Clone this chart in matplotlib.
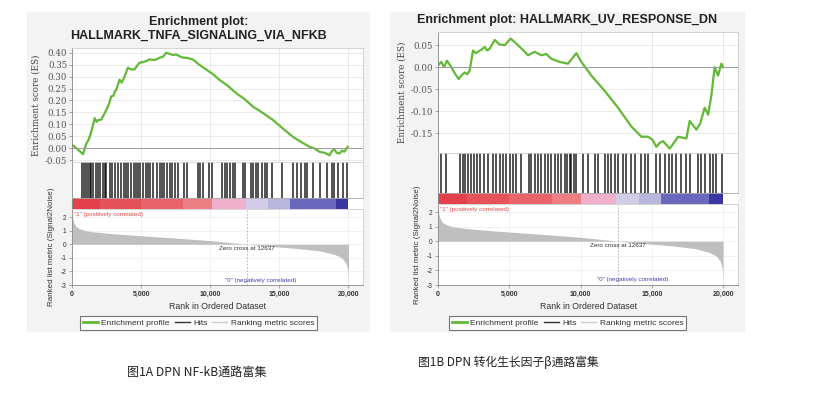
import numpy as np
import matplotlib
matplotlib.use("Agg")
import matplotlib.pyplot as plt
from matplotlib.patches import Rectangle
from matplotlib.lines import Line2D

plt.rcParams['font.family'] = ['Liberation Sans', 'DejaVu Sans']

W, H = 821, 393

# ---------------- data ----------------
# ranked list metric (same dataset for both plots)
metric_rank = [0, 50, 150, 300, 600, 1000, 1500, 2500, 4000, 6000, 8000, 10000,
               11500, 12637, 13500, 15000, 16500, 18000, 19000, 19500, 19800, 19950, 20000]
metric_val = [2.3, 1.9, 1.55, 1.3, 1.12, 1.0, 0.92, 0.82, 0.7, 0.56, 0.42, 0.27,
              0.12, 0.0, -0.08, -0.2, -0.33, -0.5, -0.75, -1.0, -1.35, -1.9, -2.9]
zero_cross = 12637

# A: HALLMARK_TNFA_SIGNALING_VIA_NFKB
es_rank_a = [0, 150, 300, 500, 800, 1040, 1200, 1400, 1640, 1780, 1900, 2120, 2300, 2480,
             2600, 2700, 2840, 3000, 3100, 3200, 3440, 3600, 3800, 4040, 4300, 4520, 4700,
             4880, 5200, 5400, 5600, 6000, 6330, 6600, 6810, 7100, 7300, 7530, 7800, 8000,
             8250, 8500, 8740, 9200, 9700, 10200, 10660, 11300, 11870, 12500, 13070, 13800,
             14520, 15200, 15970, 16600, 17170, 17500, 17900, 18300, 18620, 18800, 18980,
             19150, 19350, 19550, 19700, 19950]
es_val_a = [0.013, 0.008, 0.0, -0.01, -0.025, 0.02, 0.035, 0.07, 0.126, 0.11, 0.118, 0.12,
            0.14, 0.16, 0.175, 0.19, 0.217, 0.22, 0.238, 0.245, 0.287, 0.275, 0.30, 0.337,
            0.33, 0.33, 0.345, 0.358, 0.362, 0.366, 0.372, 0.37, 0.379, 0.384, 0.40, 0.395,
            0.39, 0.393, 0.385, 0.38, 0.379, 0.376, 0.372, 0.35, 0.33, 0.31, 0.287, 0.26,
            0.231, 0.205, 0.175, 0.148, 0.119, 0.085, 0.048, 0.025, 0.006, 0.0, -0.015,
            -0.02, -0.03, -0.012, -0.005, -0.02, -0.022, -0.01, -0.015, 0.006]
hits_a = [751, 848, 993, 1162, 1283, 1403, 1524, 1717, 1886, 2055, 2249, 2393, 2490, 2732,
          2925, 3094, 3335, 3577, 3770, 3891, 4060, 4253, 4470, 4615, 4784, 4953, 5146,
          5340, 5509, 5678, 5871, 6113, 6354, 6475, 6644, 6837, 7078, 7248, 7440, 7682,
          8093, 8286, 9131, 9252, 9494, 9904, 10098, 10823, 11065, 11234, 11427, 11620,
          11789, 12393, 12514, 12924, 13069, 13311, 13480, 13721, 13963, 14132, 14446,
          15170, 16016, 16305, 16547, 16861, 17030, 17416, 17948, 18430, 18793, 18962,
          19276, 19638, 19880]
band_edges_a = [0, 2000, 5000, 8000, 10100, 12600, 14200, 15800, 19100, 20000]

# B: HALLMARK_UV_RESPONSE_DN
es_rank_b = [0, 234, 420, 630, 935, 1200, 1450, 1650, 1870, 2050, 2220, 2455, 2650, 2810,
             3050, 3275, 3450, 3625, 3980, 4300, 4680, 4900, 5100, 5615, 6000, 6315, 6780,
             7250, 7600, 7950, 8540, 9120, 9710, 10060, 10760, 11700, 12630, 13570, 14270,
             14740, 15050, 15320, 15550, 15790, 16260, 16550, 16840, 17430, 17660, 18130,
             18400, 18710, 18950, 19180, 19410, 19650, 19880, 20000]
es_val_b = [0.004, 0.012, 0.0, 0.015, 0.0, -0.015, -0.027, -0.018, -0.012, -0.016, -0.008,
            0.038, 0.032, 0.035, 0.04, 0.046, 0.038, 0.042, 0.062, 0.052, 0.05, 0.058,
            0.065, 0.05, 0.038, 0.027, 0.035, 0.027, 0.03, 0.019, 0.012, 0.008, 0.032,
            0.012, -0.019, -0.054, -0.092, -0.135, -0.158, -0.158, -0.165, -0.181, -0.172,
            -0.168, -0.185, -0.172, -0.158, -0.162, -0.122, -0.142, -0.128, -0.092, -0.108,
            -0.065, 0.0, -0.019, 0.008, 0.0]
hits_b = [237, 587, 1523, 1757, 1921, 2108, 2342, 2529, 2763, 2926, 3230, 3511, 3862, 4096,
          4330, 4564, 4798, 5031, 5265, 5499, 5850, 6365, 6552, 6786, 7020, 7254, 7487,
          7721, 7955, 8189, 8423, 8657, 8891, 9078, 9242, 9359, 9546, 9710, 10179, 10530,
          10998, 11231, 11699, 11933, 12167, 12401, 12635, 12986, 13220, 13570, 13804,
          14272, 14506, 14740, 15325, 15559, 15910, 16214, 16447, 16728, 17079, 17430,
          17664, 18248, 18482, 18716, 19066, 19301, 19535, 19956]
band_edges_b = [0, 2000, 5000, 8000, 10060, 12510, 14100, 15670, 19000, 20000]

band_colors = ['#e3404a', '#e6525a', '#e9636a', '#ec7e84', '#f0b0cc',
               '#d2cce9', '#b9b6de', '#6a68be', '#3936a0']

x_ticks = [0, 5000, 10000, 15000, 20000]
x_ticklabels = ['0', '5,000', '10,000', '15,000', '20,000']

green = '#62b936'


def box(x0, y0, x1, y1):
    return [x0 / W, 1 - y1 / H, (x1 - x0) / W, (y1 - y0) / H]


fig = plt.figure(figsize=(W / 100, H / 100), dpi=100)


def gsea_panel(px, title, es_rank, es_val, es_ylim, es_ticks, hits, band_edges,
               y_es, y_hit, y_bar, y_met, y_bot, metric_ylim):
    x0, x1, bg0, bg1 = px
    fig.patches.append(Rectangle((bg0 / W, 1 - 332 / H), (bg1 - bg0) / W, 320 / H,
                                 transform=fig.transFigure, facecolor='#f3f3f3',
                                 edgecolor='none', zorder=-5))
    cx = (bg0 + bg1) / 2
    fig.text(cx / W, 1 - (20 if '\n' not in title else 28.5) / H, title, ha='center',
             va='center', fontsize=9, fontweight='bold', color='#222222', linespacing=1.2)

    # enrichment score
    ax = fig.add_axes(box(x0, y_es, x1, y_hit))
    ax.plot(es_rank, es_val, color=green, lw=1.6)
    ax.axhline(0, color='#9a9a9a', lw=0.7)
    ax.set_xlim(0, 21050)
    ax.set_ylim(*es_ylim)
    ax.set_yticks(es_ticks)
    ax.set_yticklabels(['%.2f' % v for v in es_ticks], family='DejaVu Serif', fontsize=6.2,
                       color='#555555')
    ax.set_xticks(x_ticks)
    ax.tick_params(axis='x', length=0, labelbottom=False)
    ax.tick_params(axis='y', length=2, width=0.5, pad=1.5, color='#888888')
    ax.grid(True, color='#e6e6e6', lw=0.6)
    ax.set_axisbelow(True)
    for s in ax.spines.values():
        s.set_color('#cccccc')
        s.set_linewidth(0.6)
    ax.spines['left'].set_color('#888888')
    ax.set_ylabel('Enrichment score (ES)', family='DejaVu Serif', fontsize=6.3,
                  color='#444444', labelpad=3)

    # hits
    axh = fig.add_axes(box(x0, y_hit, x1, y_bar))
    axh.vlines(hits, 0, 1, color='black', lw=1.2, alpha=0.8)
    axh.set_xlim(0, 21050)
    axh.set_ylim(0, 1)
    axh.set_xticks([])
    axh.set_yticks([])
    for s in axh.spines.values():
        s.set_color('#cccccc')
        s.set_linewidth(0.6)
    axh.spines['left'].set_color('#888888')

    # colour bar
    axb = fig.add_axes(box(x0, y_bar, x1, y_met))
    for i in range(len(band_edges) - 1):
        axb.axvspan(band_edges[i], band_edges[i + 1], color=band_colors[i], lw=0)
    axb.set_xlim(0, 21050)
    axb.set_xticks([])
    axb.set_yticks([])
    for s in axb.spines.values():
        s.set_visible(False)
    axb.spines['top'].set_visible(True)
    axb.spines['top'].set_color('#aaaaaa')
    axb.spines['top'].set_linewidth(0.6)
    axb.spines['left'].set_visible(True)
    axb.spines['left'].set_color('#888888')

    # ranked list metric
    axm = fig.add_axes(box(x0, y_met, x1, y_bot))
    axm.fill_between(metric_rank, metric_val, 0, color='#bfbfbf', lw=0)
    axm.axvline(zero_cross, color='#aaaaaa', lw=0.6, ls=(0, (2, 2)))
    axm.set_xlim(0, 21050)
    axm.set_ylim(*metric_ylim)
    axm.set_yticks([2, 1, 0, -1, -2, -3])
    axm.set_yticklabels(['2', '1', '0', '-1', '-2', '-3'], fontsize=4.8, color='#333333')
    axm.set_xticks(x_ticks)
    axm.set_xticklabels(x_ticklabels, fontsize=5, color='#333333', fontweight='bold')
    axm.tick_params(length=2, width=0.5, pad=2, color='#888888')
    axm.grid(True, color='#ececec', lw=0.5)
    axm.set_axisbelow(True)
    for s in axm.spines.values():
        s.set_color('#cccccc')
        s.set_linewidth(0.6)
    axm.spines['left'].set_color('#888888')
    axm.spines['bottom'].set_color('#888888')
    axm.text(150, 2.2, '"1" (positively correlated)', fontsize=4.5, color='#e04848',
             va='center')
    axm.text(zero_cross, -0.3, 'Zero cross at %d' % zero_cross, fontsize=4.5,
             color='#333333', ha='center', va='center')
    axm.text(zero_cross + 1000, -2.65, '"0" (negatively correlated)', fontsize=4.5,
             color='#4040b0', ha='center', va='center')
    axm.set_xlabel('Rank in Ordered Dataset', fontsize=6.3, color='#333333', labelpad=3)
    axm.set_ylabel('Ranked list metric (Signal2Noise)', fontsize=5.8, color='#333333',
                   labelpad=4)

    handles = [Line2D([], [], color=green, lw=2),
               Line2D([], [], color='#333333', lw=1),
               Line2D([], [], color='#cccccc', lw=1)]
    leg = fig.legend(handles, ['Enrichment profile', 'Hits', 'Ranking metric scores'],
                     loc='center', bbox_to_anchor=(cx / W, 1 - 323 / H), ncol=3,
                     fontsize=6, frameon=True, fancybox=False, handlelength=1.8,
                     handletextpad=0.4, columnspacing=0.6, borderpad=0.4)
    leg.get_frame().set_edgecolor('#555555')
    leg.get_frame().set_linewidth(0.8)
    for t in leg.get_texts():
        t.set_color('#333333')


gsea_panel((72, 363, 27, 370), 'Enrichment plot:\nHALLMARK_TNFA_SIGNALING_VIA_NFKB',
           es_rank_a, es_val_a, (-0.058, 0.42),
           [-0.05, 0.0, 0.05, 0.10, 0.15, 0.20, 0.25, 0.30, 0.35, 0.40],
           hits_a, band_edges_a, 48, 162, 198, 209, 285, (-3, 2.6))

gsea_panel((438, 738, 390, 745), 'Enrichment plot: HALLMARK_UV_RESPONSE_DN',
           es_rank_b, es_val_b, (-0.195, 0.08), [-0.15, -0.10, -0.05, 0.0, 0.05],
           hits_b, band_edges_b, 32, 153, 193, 204, 285, (-3, 2.55))

cap_font = ['Noto Sans CJK SC', 'DejaVu Sans']
fig.text(127 / W, 1 - 372 / H, '图1A DPN NF-kB通路富集', family=cap_font, fontsize=8.7,
         ha='left', va='center', color='#222222')
fig.text(418 / W, 1 - 362 / H, '图1B DPN 转化生长因子β通路富集', family=cap_font, fontsize=8.5,
         ha='left', va='center', color='#222222')

fig.savefig('out.png', dpi=100, facecolor='white')
